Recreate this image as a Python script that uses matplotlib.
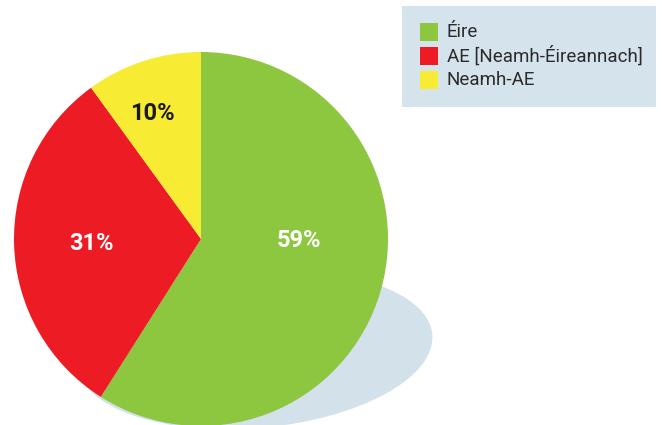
import matplotlib
matplotlib.use("Agg")
import matplotlib.pyplot as plt
from matplotlib.patches import Ellipse, Rectangle

categories = ["Éire", "AE [Neamh-Éireannach]", "Neamh-AE"]
values = [59, 31, 10]
labels = ["59%", "31%", "10%"]
colors = ["#8dc63f", "#ed1c24", "#f7eb34"]
label_colors = ["white", "white", "#1a1a1a"]

W, H = 662, 425
fig = plt.figure(figsize=(W / 100, H / 100), dpi=100)
ax = fig.add_axes([0, 0, 1, 1])

# shadow ellipse
ax.add_patch(Ellipse((255, H - 350), 2 * 178, 2 * 78, angle=5,
                     facecolor="#d3e1ea", edgecolor="none", zorder=0))

cx, cy, r = 201, H - 239, 187
wedges, _ = ax.pie(values, colors=colors, startangle=90, counterclock=False,
                   center=(cx, cy), radius=r, frame=True,
                   wedgeprops=dict(linewidth=0))
for w in wedges:
    w.set_zorder(2)
ax.set_xlim(0, W)
ax.set_ylim(0, H)
ax.axis("off")

label_pos = [(299, 240), (92, 243), (152, 113)]
for lab, (x, y), c in zip(labels, label_pos, label_colors):
    ax.text(x, H - y, lab, color=c, fontsize=17, fontweight="bold",
            family="Roboto", ha="center", va="center", zorder=3)

# legend box
ax.add_patch(Rectangle((402, H - 107), 254, 101, facecolor="#d5e4ec",
                       edgecolor="none", zorder=1))
for i, (cat, col) in enumerate(zip(categories, colors)):
    yc = 32 + 24 * i
    ax.add_patch(Rectangle((420, H - yc - 9), 18, 18, facecolor=col,
                           edgecolor="none", zorder=2))
    ax.text(447, H - yc, cat, fontsize=13.5, family="Roboto", color="#2b2b2b",
            ha="left", va="center", zorder=3)

fig.savefig("out.png", dpi=100)
